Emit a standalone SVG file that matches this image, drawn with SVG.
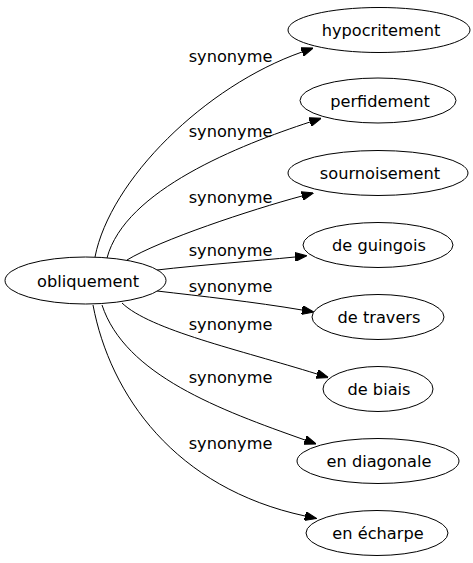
<svg xmlns="http://www.w3.org/2000/svg" width="473" height="563" viewBox="0 0 473 563">
<style>
  .node ellipse { fill: #ffffff; stroke: #000000; stroke-width: 1; }
  text { font-family: "DejaVu Sans", sans-serif; font-size: 16.2px; fill: #000000; text-anchor: middle; }
  .edge path { fill: none; stroke: #000000; stroke-width: 1; marker-end: url(#arrow); }
</style>
<defs>
  <marker id="arrow" markerUnits="userSpaceOnUse" markerWidth="12" markerHeight="9" viewBox="0 0 12 9" refX="0" refY="4.5" orient="auto">
    <path d="M0,0 L12,4.5 L0,9 z" fill="#000000" stroke="#000000" stroke-width="1"/>
  </marker>
</defs>
<rect width="473" height="563" fill="#ffffff"/>
<g id="edges">
  <g class="edge"><path d="M95,257 C110,180 205,86 302,52"/><text x="230.5" y="62">synonyme</text></g>
  <g class="edge"><path d="M107,258 C125,190 240,145 310,122"/><text x="230.5" y="137">synonyme</text></g>
  <g class="edge"><path d="M127,260 C160,240 250,210 302,196"/><text x="230.5" y="203">synonyme</text></g>
  <g class="edge"><path d="M157,270 C200,265 255,261 295,257"/><text x="230.5" y="256">synonyme</text></g>
  <g class="edge"><path d="M157,291 C200,296 255,302 302,310"/><text x="230.5" y="292">synonyme</text></g>
  <g class="edge"><path d="M122,303 C150,330 240,350 317,374"/><text x="230.5" y="330">synonyme</text></g>
  <g class="edge"><path d="M102,305 C125,375 220,410 305,440"/><text x="230.5" y="383">synonyme</text></g>
  <g class="edge"><path d="M93,305 C110,395 175,488 305,516"/><text x="230.5" y="449">synonyme</text></g>
</g>
<g id="obliquement" class="node"><ellipse cx="85.5" cy="280.5" rx="80.5" ry="23.5"/><text x="88" y="287">obliquement</text></g>
<g id="hypocritement" class="node"><ellipse cx="379" cy="30" rx="91" ry="22.5"/><text x="381" y="36">hypocritement</text></g>
<g id="perfidement" class="node"><ellipse cx="378" cy="100.5" rx="78" ry="22.5"/><text x="380" y="106.5">perfidement</text></g>
<g id="sournoisement" class="node"><ellipse cx="378" cy="173" rx="90" ry="22.5"/><text x="380" y="179">sournoisement</text></g>
<g id="de_guingois" class="node"><ellipse cx="378" cy="245" rx="75" ry="22.5"/><text x="379" y="251">de guingois</text></g>
<g id="de_travers" class="node"><ellipse cx="378" cy="317" rx="66" ry="22.5"/><text x="379" y="323">de travers</text></g>
<g id="de_biais" class="node"><ellipse cx="378" cy="389" rx="55" ry="22.5"/><text x="379" y="395">de biais</text></g>
<g id="en_diagonale" class="node"><ellipse cx="378" cy="461" rx="81" ry="22.5"/><text x="379" y="467">en diagonale</text></g>
<g id="en_echarpe" class="node"><ellipse cx="377" cy="533" rx="71" ry="22.5"/><text x="378" y="539">en écharpe</text></g>
</svg>
